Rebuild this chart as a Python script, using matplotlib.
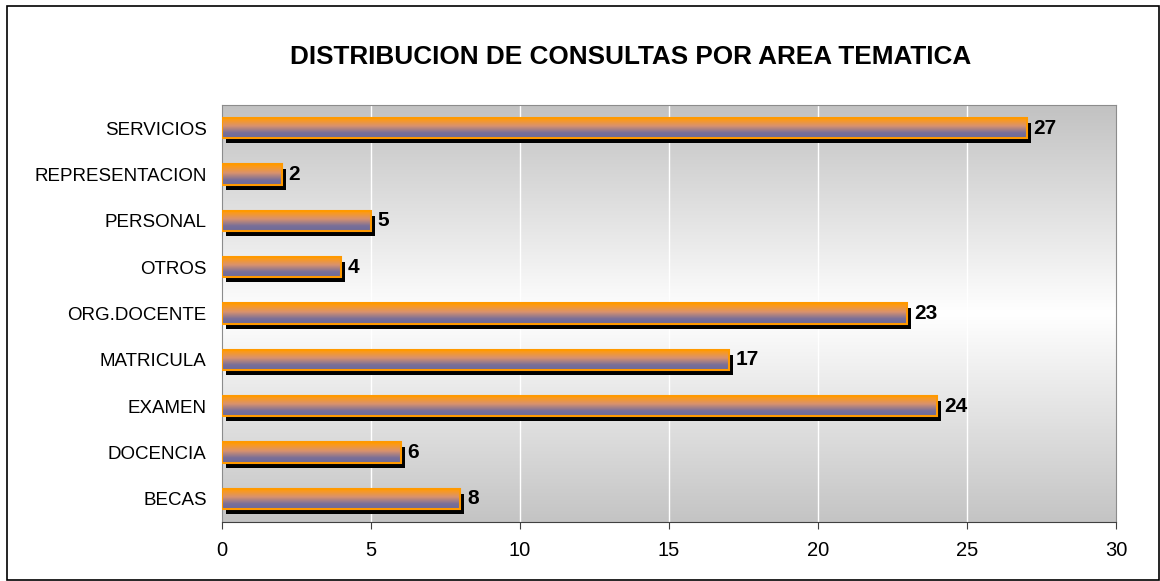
import matplotlib
matplotlib.use("Agg")
import matplotlib.pyplot as plt
import numpy as np
from matplotlib.colors import LinearSegmentedColormap
from matplotlib.patches import Rectangle
from matplotlib.transforms import ScaledTranslation

plt.rcParams["font.family"] = ["Liberation Sans", "DejaVu Sans"]

categorias = ["BECAS", "DOCENCIA", "EXAMEN", "MATRICULA", "ORG.DOCENTE",
              "OTROS", "PERSONAL", "REPRESENTACION", "SERVICIOS"]
consultas = [8, 6, 24, 17, 23, 4, 5, 2, 27]
titulo = "DISTRIBUCION DE CONSULTAS POR AREA TEMATICA"

fig = plt.figure(figsize=(11.6, 5.81), dpi=100)
ax = fig.add_axes([222 / 1160, 1 - 522 / 581, (1116 - 222) / 1160, (522 - 105) / 581])

# fond dégradé gris -> blanc -> gris
bg = LinearSegmentedColormap.from_list("bg", [(0, "#c2c2c2"), (0.5, "#ffffff"), (1, "#c4c4c4")])
ax.imshow(np.linspace(0, 1, 256).reshape(-1, 1), cmap=bg, aspect="auto",
          extent=[0, 1, 0, 1], transform=ax.transAxes, zorder=0)

ax.set_yticks(range(len(categorias)))
ax.set_yticklabels(categorias)
ax.set_xticks(range(0, 31, 5))
for x in range(5, 30, 5):
    ax.axvline(x, color="white", lw=1, zorder=1)

barcm = LinearSegmentedColormap.from_list(
    "bar", [(0, "#ff9900"), (0.12, "#fb9a1c"), (0.42, "#d9926e"), (0.75, "#7a6f98"), (1, "#6b6a9c")])
grad = np.linspace(0, 1, 64).reshape(-1, 1)
h = 0.44
shift = ax.transData + ScaledTranslation(4 / 100, -5 / 100, fig.dpi_scale_trans)
for i, v in enumerate(consultas):
    ax.add_patch(Rectangle((0, i - h / 2), v, h, facecolor="black", edgecolor="none",
                           transform=shift, zorder=2))
    ax.imshow(grad, cmap=barcm, aspect="auto", extent=[0, v, i - h / 2, i + h / 2],
              zorder=3, interpolation="bilinear")
    ax.add_patch(Rectangle((0, i - h / 2), v, h, facecolor="none", edgecolor="#ff9900",
                           lw=1.5, zorder=4))
    ax.text(v + 0.22, i + 0.0, str(v), fontsize=15, fontweight="bold",
            va="center", ha="left", zorder=5)

ax.set_xlim(0, 30)
ax.set_ylim(-0.5, len(categorias) - 0.5)

for s in ["top", "right", "left"]:
    ax.spines[s].set_color("#8c8c8c")
ax.spines["bottom"].set_color("#404040")
ax.tick_params(axis="y", length=0, pad=11, labelsize=13.5)
ax.tick_params(axis="x", length=5, color="#404040", pad=9, labelsize=14.5)

fig.text(0.544, 1 - 57 / 581, titulo, ha="center", va="center",
         fontsize=18.8, fontweight="bold")

fig.patches.append(Rectangle((7 / 1160, 0.002), 1 - 8 / 1160, 1 - 6 / 581 - 0.002,
                             transform=fig.transFigure, fill=False,
                             edgecolor="black", lw=1.2))

fig.savefig("out.png", dpi=100)
